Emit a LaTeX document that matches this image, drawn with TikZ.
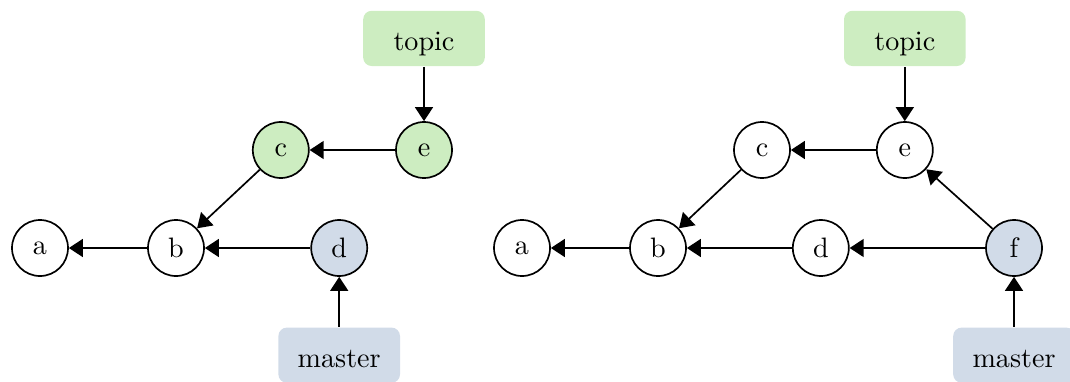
\documentclass[tikz,border=0pt]{standalone}
\usepackage{tikz}
\usetikzlibrary{arrows.meta,positioning,shapes}
\definecolor{topicgreen}{RGB}{205,237,193}
\definecolor{masterblue}{RGB}{209,219,232}

\begin{document}
\begin{tikzpicture}[-{Triangle[width=6.4pt,length=5pt]}, line width=0.6pt,
  commit/.style={circle,draw,minimum size=.7cm,inner sep=0pt},
  ref/.style={rectangle,rounded corners=3pt,minimum width=1.52cm,minimum height=.69cm,inner sep=0pt,text height=8.6pt,text depth=0pt}]
\useasboundingbox (0,0) rectangle (13.375,-4.7625);
% history before the merge
\begin{scope}
\node[commit] (va) at (0.5,-3.1) {a};
\node[commit] (vb) at (2.2,-3.1) {b};
\node[commit,fill=topicgreen] (vc) at (3.51,-1.875) {c};
\node[commit,fill=masterblue] (vd) at (4.24,-3.1) {d};
\node[commit,fill=topicgreen] (ve) at (5.3,-1.875) {e};
\node[ref,fill=topicgreen] (vtopic) at (5.3,-0.48) {topic};
\node[ref,fill=masterblue] (vmaster) at (4.24,-4.44) {master};
\end{scope}
\begin{scope}
\draw  (vb) edge node{} (va);
\draw  (vc) edge node{} (vb);
\draw  (vd) edge node{} (vb);
\draw  (ve) edge node{} (vc);
\draw  (vtopic) edge node{} (ve);
\draw  (vmaster) edge node{} (vd);
\end{scope}
% history after the merge
\begin{scope}
\node[commit] (wa) at (6.525,-3.1) {a};
\node[commit] (wb) at (8.225,-3.1) {b};
\node[commit] (wc) at (9.525,-1.875) {c};
\node[commit] (wd) at (10.26,-3.1) {d};
\node[commit] (we) at (11.31,-1.875) {e};
\node[commit,fill=masterblue] (wf) at (12.675,-3.1) {f};
\node[ref,fill=topicgreen] (wtopic) at (11.31,-0.48) {topic};
\node[ref,fill=masterblue] (wmaster) at (12.675,-4.44) {master};
\end{scope}
\begin{scope}
\draw  (wb) edge node{} (wa);
\draw  (wc) edge node{} (wb);
\draw  (wd) edge node{} (wb);
\draw  (we) edge node{} (wc);
\draw  (wf) edge node{} (wd);
\draw  (wf) edge node{} (we);
\draw  (wtopic) edge node{} (we);
\draw  (wmaster) edge node{} (wf);
\end{scope}
\end{tikzpicture}
\end{document}
